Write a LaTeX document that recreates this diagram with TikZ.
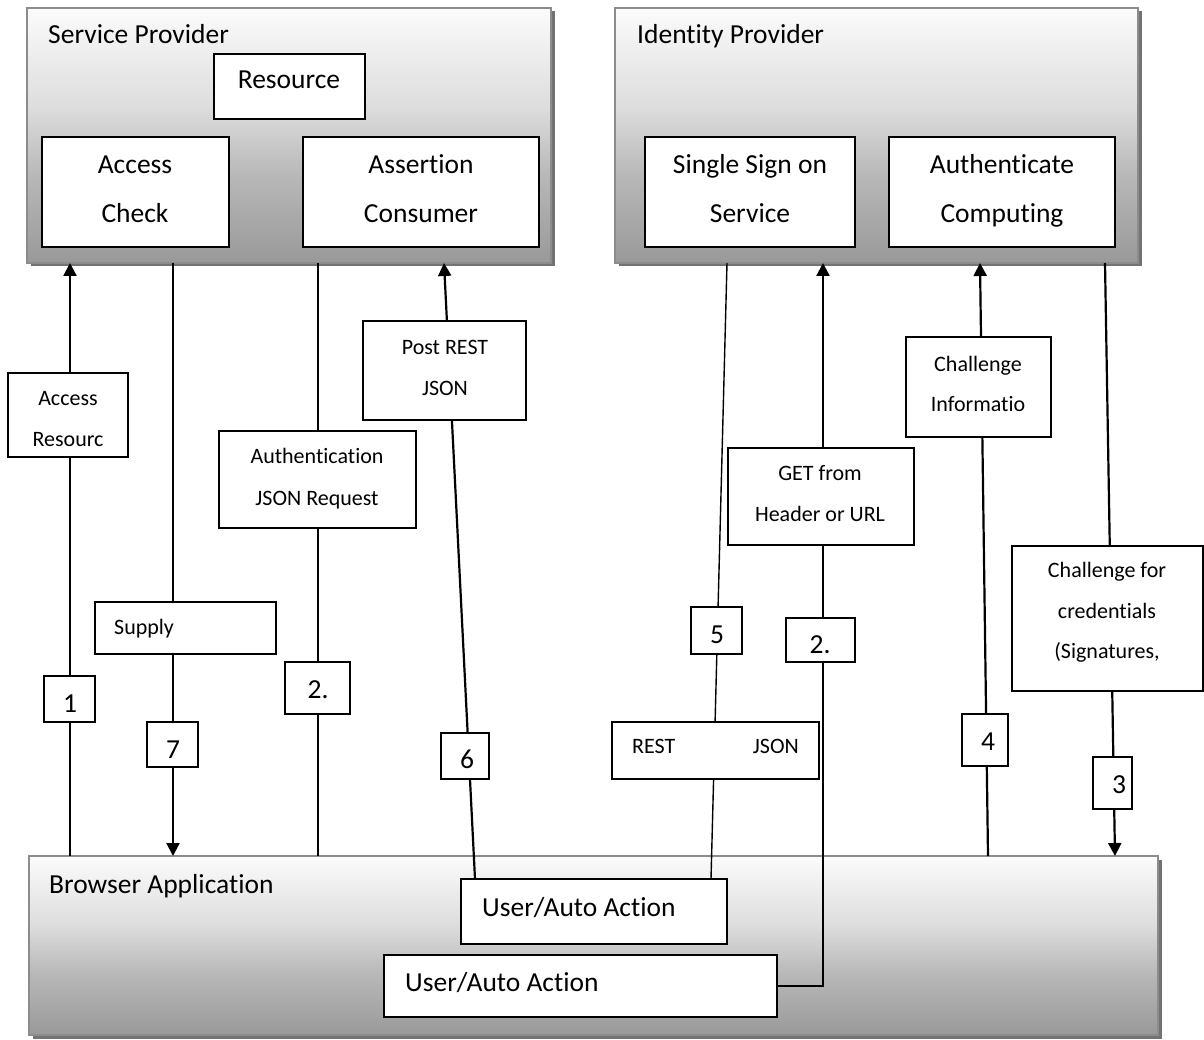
\documentclass[tikz,border=0pt]{standalone}
\usepackage{fontspec}
\setmainfont{Carlito}[Ligatures={NoCommon}]
\usetikzlibrary{arrows.meta,shadows}

\definecolor{fadeA}{gray}{0.60}
\definecolor{fadeB}{gray}{0.72}
\definecolor{fadeC}{gray}{0.87}
\definecolor{fadeD}{gray}{0.985}
\definecolor{panelEdge}{gray}{0.55}
\definecolor{panelShade}{gray}{0.45}

% light at the top, grey towards the bottom
\pgfdeclareverticalshading{panelfade}{100bp}{%
  color(0bp)=(fadeA); color(25bp)=(fadeA); color(42bp)=(fadeB);
  color(56bp)=(fadeC); color(75bp)=(fadeD); color(100bp)=(fadeD)}

% box from its top-left (#3,#4) to its bottom-right (#5,#6) corner
\newcommand\bx[6]{\node[#2, anchor=north west, minimum width={(#5)-(#3)},
  minimum height={(#6)-(#4)}] (#1) at (#3,#4) {};}

\begin{document}
\begin{tikzpicture}[x=1pt,y=-1pt,
  panel/.style={draw=panelEdge, line width=2pt, shade, shading=panelfade,
    inner sep=0pt, outer sep=0pt,
    drop shadow={shadow xshift=3.5pt, shadow yshift=-3.5pt, fill=panelShade, opacity=1}},
  inbox/.style={draw=black, line width=1.8pt, fill=white, inner sep=0pt, outer sep=0pt},
  tagbox/.style={draw=black, line width=1.6pt, fill=white, inner sep=0pt, outer sep=0pt},
  big/.style={font=\fontsize{27.5}{33}\selectfont, inner sep=0pt, anchor=base},
  small/.style={font=\fontsize{22}{26}\selectfont, inner sep=0pt, anchor=base},
  flow/.style={draw=black, line width=2.2pt},
  thinflow/.style={draw=black, line width=1.4pt},
  tip/.style={-{Triangle[length=13pt,width=13pt]}}]

\useasboundingbox[fill=white] (0,0) rectangle (1204,1040);

% ---------- the three panels ----------
\bx{sp}{panel}{27}{8}{551}{263}
\bx{idp}{panel}{615}{8}{1138}{263}
\bx{br}{panel}{29}{856}{1158}{1035}

\node[big, anchor=base west] (spT) at (48,44) {Service Provider};
\node[big, anchor=base west] (idpT) at (637,44) {Identity Provider};
\node[big, anchor=base west] (brT) at (49,893) {Browser Application};

% ---------- components ----------
\bx{res}{inbox}{214}{54}{365}{119}
\bx{acc}{inbox}{42}{137}{229}{247}
\bx{asc}{inbox}{303}{137}{539}{247}
\bx{sso}{inbox}{645}{137}{855}{247}
\bx{auth}{inbox}{889}{137}{1115}{247}

\node[big] (resT) at (289,89) {Resource};
\node[big] (accT1) at (135,174) {Access};
\node[big] (accT2) at (135,223) {Check};
\node[big] (ascT1) at (421,174) {Assertion};
\node[big] (ascT2) at (421,223) {Consumer};
\node[big] (ssoT1) at (750,174) {Single Sign on};
\node[big] (ssoT2) at (750,223) {Service};
\node[big] (authT1) at (1002,174) {Authenticate};
\node[big] (authT2) at (1002,223) {Computing};

% ---------- browser actions ----------
\bx{ua1}{inbox}{461}{879}{727}{944}
\bx{ua2}{inbox}{384}{955}{777}{1017}
\node[big, anchor=base west] (ua1T) at (482,916) {User/Auto Action};
\node[big, anchor=base west] (ua2T) at (405,991) {User/Auto Action};

% ---------- message flows ----------
\coordinate (k1) at (70,0);
\coordinate (k7) at (173,0);
\coordinate (k2a) at (318,0);
\coordinate (k6a) at (475,0);
\coordinate (k6b) at (444,0);
\coordinate (k5a) at (727,0);
\coordinate (k5b) at (711,0);
\coordinate (k2b) at (823,0);
\coordinate (k2y) at (0,986);
\coordinate (k4a) at (988,0);
\coordinate (k4b) at (980,0);
\coordinate (k3a) at (1105,0);
\coordinate (k3b) at (1115,0);

\draw[flow, tip] (br.north -| k1) -- (sp.south -| k1);
\draw[flow, tip] (sp.south -| k7) -- (br.north -| k7);
\draw[thinflow] (sp.south -| k2a) -- (br.north -| k2a);
\draw[flow, tip] (ua1.north -| k6a) -- (sp.south -| k6b);
\draw[thinflow] (idp.south -| k5a) -- (ua1.north -| k5b);
\draw[flow, tip] (ua2.east |- k2y) -| (idp.south -| k2b);
\draw[flow, tip] (br.north -| k4a) -- (idp.south -| k4b);
\draw[flow, tip] (idp.south -| k3a) -- (br.north -| k3b);

% ---------- labels on the flows ----------
\bx{lAR}{tagbox}{8}{373}{128}{457}
\bx{lSup}{tagbox}{95}{602}{276}{654}
\bx{lAJ}{tagbox}{219}{431}{416}{528}
\bx{lPR}{tagbox}{363}{321}{526}{420}
\bx{lGET}{tagbox}{728}{448}{914}{545}
\bx{lRJ}{tagbox}{612}{722}{819}{779}
\bx{lCI}{tagbox}{906}{337}{1051}{437}
\bx{lCC}{tagbox}{1012}{546}{1203}{691}

\node[small] (lART1) at (68,405) {Access};
\node[small] (lART2) at (68,446) {Resourc};
\node[small, anchor=base west] (lSupT) at (114,634) {Supply};
\node[small] (lAJT1) at (317,463) {Authentication};
\node[small] (lAJT2) at (317,505) {JSON Request};
\node[small] (lPRT1) at (445,354) {Post REST};
\node[small] (lPRT2) at (445,395) {JSON};
\node[small] (lGETT1) at (820,480) {GET from};
\node[small] (lGETT2) at (820,521) {Header or URL};
\node[small, anchor=base west] (lRJT1) at (632,753) {REST};
\node[small, anchor=base east] (lRJT2) at (799,753) {JSON};
\node[small] (lCIT1) at (978,371) {Challenge};
\node[small] (lCIT2) at (978,411) {Informatio};
\node[small] (lCCT1) at (1107,577) {Challenge for};
\node[small] (lCCT2) at (1107,618) {credentials};
\node[small] (lCCT3) at (1107,658) {(Signatures,};

% ---------- step numbers ----------
\bx{n1}{tagbox}{44}{676}{95}{722}
\bx{n7}{tagbox}{147}{722}{198}{767}
\bx{n2a}{tagbox}{285}{662}{350}{714}
\bx{n6}{tagbox}{441}{733}{489}{779}
\bx{n5}{tagbox}{691}{607}{742}{654}
\bx{n2b}{tagbox}{786}{618}{855}{662}
\bx{n4}{tagbox}{962}{714}{1008}{766}
\bx{n3}{tagbox}{1093}{757}{1132}{809}

\node[big] (n1T) at (70,712) {1};
\node[big] (n7T) at (173,758) {7};
\node[big] (n2aT) at (318,698) {2.};
\node[big] (n6T) at (467,768) {6};
\node[big] (n5T) at (717,643) {5};
\node[big] (n2bT) at (820,653) {2.};
\node[big] (n4T) at (988,750) {4};
\node[big] (n3T) at (1119,793) {3};

\end{tikzpicture}
\end{document}
